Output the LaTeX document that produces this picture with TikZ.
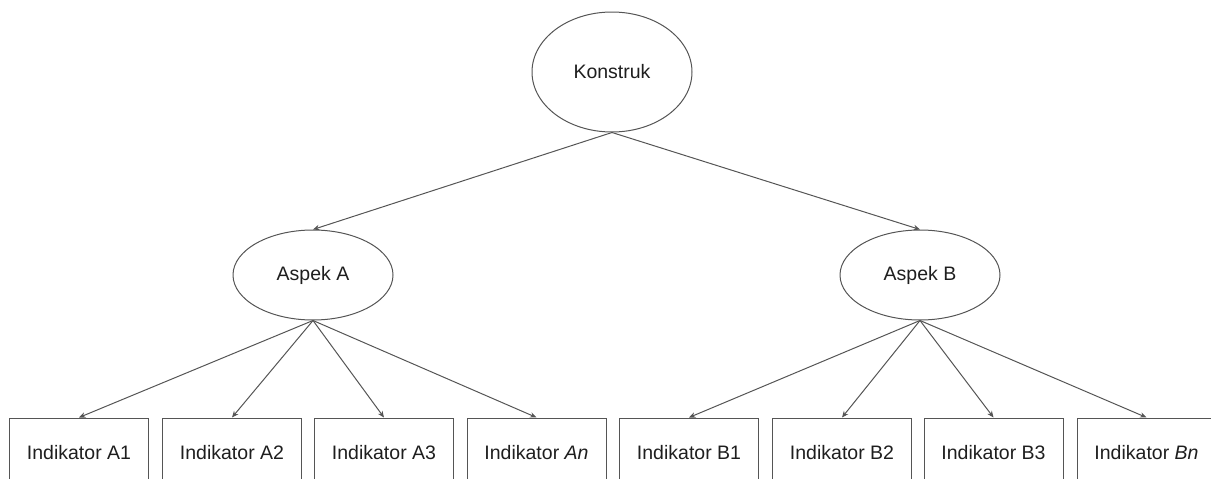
\documentclass[tikz,border=0pt]{standalone}
\usepackage{fontspec}
\setmainfont{Liberation Sans}
\usetikzlibrary{shapes.geometric,arrows.meta}
\definecolor{ln}{HTML}{555555}
\definecolor{tx}{HTML}{1E1E1E}
\tikzset{
  ell/.style={ellipse,draw=ln,line width=1pt,inner sep=0pt,text=tx,font=\fontsize{19.5}{23}\selectfont},
  ind/.style={rectangle,draw=ln,line width=1pt,minimum width=139pt,minimum height=70pt,inner sep=0pt,text=tx,font=\fontsize{19.5}{23}\selectfont},
  conn/.style={draw=ln,line width=1pt,-{Stealth[length=6.5pt,width=5.5pt]}}
}
\begin{document}
\begin{tikzpicture}[x=1pt,y=-1pt]
\useasboundingbox (0,0) rectangle (1211,479);
\clip (0,0) rectangle (1211,479);
\node[ell,minimum width=160pt,minimum height=120pt] (k) at (612,72) {Konstruk};
\node[ell,minimum width=160pt,minimum height=90pt] (a) at (313,275) {Aspek A};
\node[ell,minimum width=160pt,minimum height=90pt] (b) at (920,275) {Aspek B};
\node[ind] (a1) at (79,453) {Indikator A1};
\node[ind] (a2) at (232,453) {Indikator A2};
\node[ind] (a3) at (384,453) {Indikator A3};
\node[ind] (an) at (536.5,453) {Indikator \textit{An}};
\node[ind] (b1) at (689,453) {Indikator B1};
\node[ind] (b2) at (842,453) {Indikator B2};
\node[ind] (b3) at (993.5,453) {Indikator B3};
\node[ind] (bn) at (1146.5,453) {Indikator \textit{Bn}};
\draw[conn] (k.south) -- (a.north);
\draw[conn] (k.south) -- (b.north);
\foreach \c in {a1,a2,a3,an} \draw[conn] (a.south) -- (\c.north);
\foreach \c in {b1,b2,b3,bn} \draw[conn] (b.south) -- (\c.north);
\end{tikzpicture}
\end{document}
